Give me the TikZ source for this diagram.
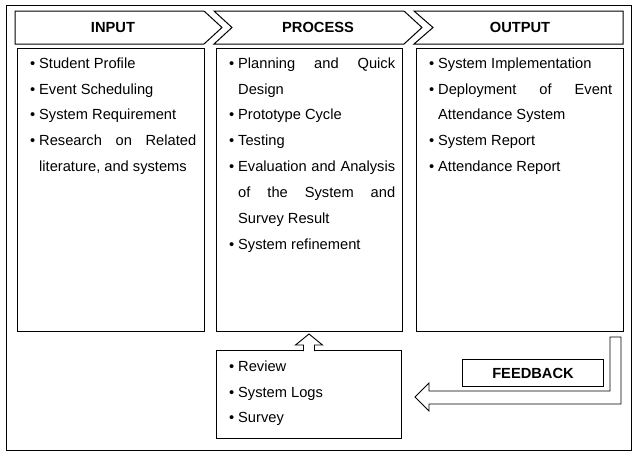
\documentclass[tikz,border=0pt]{standalone}
\usepackage{fontspec}
\setmainfont{Liberation Sans}
\usetikzlibrary{positioning,calc}

% one bullet item of a list
\newcommand{\entry}[1]{\par\noindent\hangindent=9pt\hangafter=1\strut\makebox[9pt][l]{\textbullet}#1\par}

\begin{document}
\begin{tikzpicture}[x=1pt,y=-1pt,line join=miter]
  % Styles
  \tikzset{
    frame/.style={draw,line width=1pt},
    heading/.style={inner sep=0pt,font=\bfseries\fontsize{14.67}{18}\selectfont},
    listbox/.style={draw,line width=1pt,anchor=north west,inner sep=0pt},
    listtext/.style={anchor=north west,inner sep=0pt,text width=#1,align=justify,
      font=\fontsize{14.67}{25.85}\selectfont},
    blockarrow/.style={draw,fill=white,line width=0.9pt}
  }
  \useasboundingbox (0,0) rectangle (639,456);

  % The graphic
  \draw[frame] (6,5) rectangle (631,450);

  % headings
  \draw[frame] (15,11) -- (204,11) -- (222,27.5) -- (204,44) -- (15,44) -- cycle;
  \draw[frame] (214,11) -- (404,11) -- (422,27.5) -- (404,44) -- (214,44) -- (232,27.5) -- cycle;
  \draw[frame] (414,11) -- (623,11) -- (623,44) -- (414,44) -- (433,27.5) -- cycle;
  \node[heading] (inhead) at (113,27.5) {INPUT};
  \node[heading] (prochead) at (318,27.5) {PROCESS};
  \node[heading] (outhead) at (520,27.5) {OUTPUT};

  % boxes
  \node[listbox,minimum width=187pt,minimum height=283pt] (inbox) at (17,48) {};
  \node[listbox,minimum width=186pt,minimum height=283pt] (procbox) at (216,48) {};
  \node[listbox,minimum width=207pt,minimum height=283pt] (outbox) at (416,48) {};
  \node[listbox,minimum width=185pt,minimum height=88pt] (checkbox) at (216,350) {};

  \node[listtext=166pt] (inlist) at (30,42.2) {\hyphenpenalty=10000
    \entry{Student Profile}
    \entry{Event Scheduling}
    \entry{System Requirement}
    \entry{Research on Related\linebreak literature, and systems}};

  \node[listtext=166pt] (proclist) at (229,42.2) {\hyphenpenalty=10000
    \entry{Planning and Quick\linebreak Design}
    \entry{Prototype Cycle}
    \entry{Testing}
    \entry{Evaluation and Analysis\linebreak of the System and\linebreak Survey Result}
    \entry{System refinement}};

  \node[listtext=183pt] (outlist) at (429,42.2) {\hyphenpenalty=10000
    \entry{System Implementation}
    \entry{Deployment of Event\linebreak Attendance System}
    \entry{System Report}
    \entry{Attendance Report}};

  \node[listtext=166pt] (checklist) at (229,345.2) {\hyphenpenalty=10000
    \entry{Review}
    \entry{System Logs}
    \entry{Survey}};

  % arrow up into the process
  \draw[blockarrow] ($(checkbox.north)+(-5.5,1)$) -- ++(0,-6) -- ++(-8,0)
    -- ++(13.5,-11) -- ++(13.5,11) -- ++(-8,0) -- ++(0,6);

  % feedback arrow
  \draw[blockarrow] ($(outbox.south east)+(-14,5)$) -- ++(11,0) -- ++(0,67)
    -- ++(-192,0) -- ++(0,7) -- ++(-14,-14) -- ++(14,-14) -- ++(0,8)
    -- ++(181,0) -- cycle;
  \node[listbox,minimum width=141pt,minimum height=27pt] (fbbox) at (462,359) {};
  \node[heading] (fbtext) at (fbbox.center) {FEEDBACK};
\end{tikzpicture}
\end{document}
